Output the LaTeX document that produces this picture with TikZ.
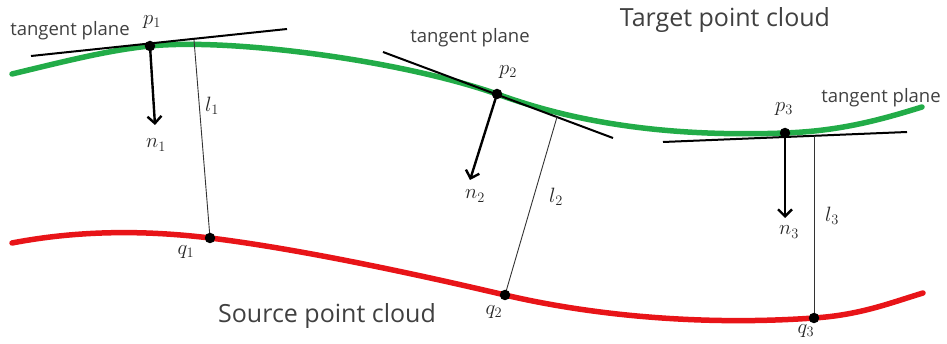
\documentclass[tikz,border=0pt]{standalone}
\usepackage{fontspec}
\setsansfont{Open Sans}
\usetikzlibrary{arrows.meta}
\definecolor{cgreen}{RGB}{34,172,72}
\definecolor{cred}{RGB}{232,20,24}
\definecolor{ctext}{RGB}{64,64,64}
\begin{document}
\begin{tikzpicture}[x=1pt,y=-1pt,
  greencurve/.style={draw=cgreen,line width=5.5pt,line cap=round},
  redcurve/.style={draw=cred,line width=5.5pt,line cap=round},
  tanline/.style={draw=black,line width=2pt},
  distline/.style={draw=black!80,line width=0.9pt},
  normalarrow/.style={draw=black,line width=2.4pt,-{Straight Barb[length=7pt,width=14pt,line width=2.4pt]}},
  ptdot/.style={circle,fill=black,inner sep=0pt,minimum size=10.5pt},
  mlabel/.style={inner sep=0pt,font=\fontsize{21}{23}\selectfont,text=black!85},
  tplabel/.style={inner sep=0pt,font=\sffamily\fontsize{18.5}{20}\selectfont,text=ctext},
  titlelabel/.style={inner sep=0pt,font=\sffamily\fontsize{25}{28}\selectfont,text=ctext}]
\useasboundingbox (0,0) rectangle (947,344);
% points
\coordinate (p1) at (150,46);
\coordinate (p2) at (497,94);
\coordinate (p3) at (785,133);
\coordinate (q1) at (210,238);
\coordinate (q2) at (505,295);
\coordinate (q3) at (814,318);
% curves
\draw[greencurve] (12,74) .. controls (70,60) and (110,50) .. (p1)
  .. controls (230,38) and (400,60) .. (p2)
  .. controls (560,117) and (650,138) .. (p3)
  .. controls (840,131) and (880,120) .. (922,107);
\draw[redcurve] (12,243) .. controls (90,228) and (160,232) .. (q1)
  .. controls (300,249) and (420,275) .. (q2)
  .. controls (590,315) and (700,326) .. (q3)
  .. controls (860,315) and (890,303) .. (923,293);
% tangent planes
\coordinate (t1a) at (31,56);
\coordinate (t1b) at (287,29);
\coordinate (t2a) at (383,52);
\coordinate (t2b) at (613,138);
\coordinate (t3a) at (663,142);
\coordinate (t3b) at (907,132);
\draw[tanline] (t1a) -- (t1b);
\draw[tanline] (t2a) -- (t2b);
\draw[tanline] (t3a) -- (t3b);
% normals
\coordinate (n1e) at (155,125);
\coordinate (n2e) at (470,180);
\coordinate (n3e) at (785,218);
\draw[normalarrow] (p1) -- (n1e);
\draw[normalarrow] (p2) -- (n2e);
\draw[normalarrow] (p3) -- (n3e);
% distances
\coordinate (l1s) at (194,40);
\coordinate (l2s) at (557,117);
\coordinate (l3s) at (814,136);
\draw[distline] (l1s) -- (q1);
\draw[distline] (l2s) -- (q2);
\draw[distline] (l3s) -- (q3);
% dots
\node[ptdot] (dp1) at (p1) {};
\node[ptdot] (dp2) at (p2) {};
\node[ptdot] (dp3) at (p3) {};
\node[ptdot] (dq1) at (q1) {};
\node[ptdot] (dq2) at (q2) {};
\node[ptdot] (dq3) at (q3) {};
% labels
\node[mlabel] (lp1) at (152,22) {$p_1$};
\node[mlabel] (lp2) at (508,72) {$p_2$};
\node[mlabel] (lp3) at (784,109) {$p_3$};
\node[mlabel] (ln1) at (156,145) {$n_1$};
\node[mlabel] (ln2) at (475,196) {$n_2$};
\node[mlabel] (ln3) at (789,232) {$n_3$};
\node[mlabel] (ll1) at (212,106) {$l_1$};
\node[mlabel] (ll2) at (556,197) {$l_2$};
\node[mlabel] (ll3) at (832,216) {$l_3$};
\node[mlabel] (lq1) at (186,252) {$q_1$};
\node[mlabel] (lq2) at (494,312) {$q_2$};
\node[mlabel] (lq3) at (806,331) {$q_3$};
\node[tplabel] (tp1) at (70,31) {tangent plane};
\node[tplabel] (tp2) at (470,38) {tangent plane};
\node[tplabel] (tp3) at (881,98) {tangent plane};
\node[titlelabel] (tgt) at (725,20) {Target point cloud};
\node[titlelabel] (src) at (327,316) {Source point cloud};
\end{tikzpicture}
\end{document}
